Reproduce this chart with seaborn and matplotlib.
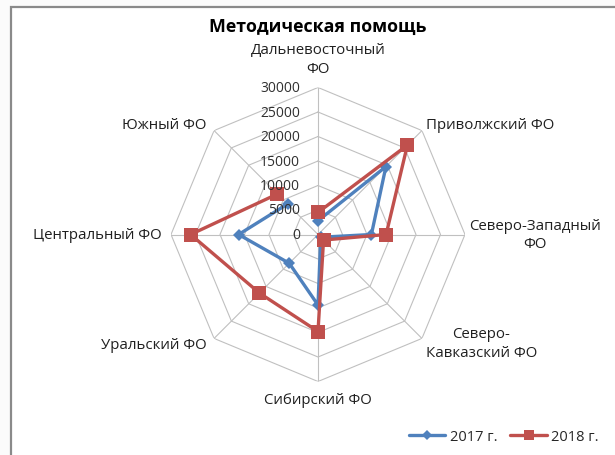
import numpy as np
import pandas as pd
import seaborn as sns
import matplotlib.pyplot as plt
from matplotlib.patches import Rectangle

# данные по федеральным округам (по часовой стрелке сверху)
categories = ['Дальневосточный\nФО', 'Приволжский ФО', 'Северо-Западный\nФО',
              'Северо-\nКавказский ФО', 'Сибирский ФО', 'Уральский ФО',
              'Центральный ФО', 'Южный ФО']
years = ['2017 г.', '2018 г.']
v2017 = [2800, 19600, 10900, 800, 14400, 8300, 16200, 8800]
v2018 = [4500, 25800, 13900, 1600, 19800, 16900, 26000, 11700]
r_ticks = [0, 5000, 10000, 15000, 20000, 25000, 30000]

sns.set_style('white')
plt.rcParams['font.family'] = ['Open Sans', 'DejaVu Sans']

n = len(categories)
angles = np.deg2rad(np.arange(n) * 360 / n)

rows = []
for year, vals in zip(years, [v2017, v2018]):
    for i in list(range(n)) + [0]:
        rows.append({'theta': angles[i], 'value': vals[i], 'year': year})
df = pd.DataFrame(rows)

fig = plt.figure(figsize=(6.15, 4.56), dpi=100, facecolor='#fbfbfb')
fig.patches.append(Rectangle((11 / 615, -0.1), 1.2, 1.1 - 8 / 456,
                             transform=fig.transFigure, facecolor='white',
                             edgecolor='#8a8a8a', lw=1.6, zorder=-5))

ax = fig.add_axes([171 / 615, 73.5 / 456, 294 / 615, 294 / 456], projection='polar')
ax.set_theta_zero_location('N')
ax.set_theta_direction(-1)
ax.set_ylim(0, 30000)
ax.set_axis_off()

# восьмиугольная сетка
closed = np.append(angles, angles[0])
grid_c = '#c0c0c0'
for t in r_ticks[1:]:
    ax.plot(closed, [t] * (n + 1), color=grid_c, lw=0.8, zorder=1)
for a in angles:
    ax.plot([a, a], [0, r_ticks[-1]], color=grid_c, lw=0.8, zorder=1)

sns.lineplot(data=df, x='theta', y='value', hue='year', style='year',
             palette={'2017 г.': '#4F81BD', '2018 г.': '#C0504D'},
             markers={'2017 г.': 'D', '2018 г.': 's'}, dashes=False,
             sort=False, lw=2.4, markersize=8, markeredgewidth=0,
             ax=ax, zorder=3)

h, l = ax.get_legend_handles_labels()
for line in ax.get_lines():
    if line.get_marker() == 's':
        line.set_markersize(9.5)
    elif line.get_marker() == 'D':
        line.set_markersize(6.5)
for line in h:
    line.set_markersize(7 if line.get_marker() == 's' else 5)

fs = 10.8
for t in r_ticks:
    ax.annotate(f'{t}', xy=(0, t), xytext=(-13, 0), textcoords='offset points',
                ha='right', va='center', fontsize=10, color='#303030')

lab_pos = [((0, 20.5), 'center'), ((2.6, 4.0), 'left'), ((3.2, 0), 'left'),
           ((2.6, -3.3), 'left'), ((0, -13.3), 'center'), ((-5.5, -4.0), 'right'),
           ((-6.8, 0), 'right'), ((-5.5, 4.0), 'right')]
for a, lab, (off, ha) in zip(angles, categories, lab_pos):
    ax.annotate(lab, xy=(a, r_ticks[-1]), xytext=off, textcoords='offset points',
                ha=ha, va='center', multialignment='center', linespacing=1.3,
                fontsize=fs, color='#202020')

fig.text(318 / 615, 1 - 27 / 456, 'Методическая помощь', ha='center', va='center',
         fontsize=12.8, fontweight='bold', color='black')

ax.legend(h, l, loc='center right', bbox_to_anchor=(0.995, 1 - 438 / 456),
          bbox_transform=fig.transFigure, ncol=2, frameon=False, fontsize=10.5,
          handlelength=2.5, handletextpad=0.3, columnspacing=0.9)

fig.savefig('out.png', dpi=100, facecolor=fig.get_facecolor())
